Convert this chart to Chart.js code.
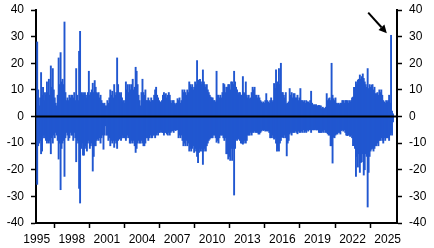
<!DOCTYPE html>
<html>
<head>
<meta charset="utf-8">
<script src="https://cdn.jsdelivr.net/npm/chart.js@4.4.1/dist/chart.umd.min.js"></script>
<style>
html,body{margin:0;padding:0;background:#fff;}
canvas{display:block;}
</style>
</head>
<body>
<canvas id="c" width="434" height="248"></canvas>
<script>
// Monthly extremes, Jan 1995 onwards (one value per month)
const startYear = 1995;
const hi = [
 28,10,4,7,16.5,8,11,6,9,8,13,9,
 14,8,19,11,18,10,7,5,4,8,22,12,
 24,13,14,12,35.5,9,6,7,6,8,7,8,
 8,7,9,6,18,8,6,24.5,32,9,8,9,
 8,9,8,7,9,17,8,9,10,12.5,9,13.5,
 11,9,8.6,9,7,8,6,5,4.8,5,4,4,
 6,5,7,10,8,9.5,7,12,8,9,22,12,
 9,8,9,7,5.5,6,5,13,10,12,9,12,
 10,12,14,10,11,18.5,17,12,8,6,4,9,
 14,9,8,10,6,6,7,6,5.5,7,6,6,
 8,10,11,8,7,6,5.5,5,6,8,9,8,
 8.6,7,8,9,8,6,5,6,6,5,4.5,5,
 6.7,6,7,5,6,10,9,10,9,8,10,9,
 13,12,11,12,10,11,13,12,21,13.7,13,14,
 13,12,17.5,13,12,11,12,10,9,8,7.3,7,
 7,6,6,5.5,17,8,8,7,8,7,9,12.4,
 12,9,11,11,12,12,10,13,13,12,17,13,
 11,10,8,9,9,8,8,15,9,8.6,13,8,
 7,8,6.7,7,9,11,10,11,8,8,7,8,
 7,6,5.5,5,5.5,5,6,8.6,6,5.5,5,6,
 7,5.5,6,12.4,10.5,17.5,12,13,18,12,20,9,
 9,8,7,9,4.8,5,5.5,10.5,8,9,7,8.6,
 8.6,7,7,8,6,7,10.5,6,6,5.5,6,5,
 6,5.5,5.5,5,6,9.5,5,4.2,4.5,4,4.5,4,
 4,4.2,4,4,3,3.5,3,3,3.5,8.6,6,6.7,
 7,6,20,8,6.7,6,7,5,4.8,5,4.5,5,
 5,6,6,5,6,6,6,5,6,5.5,6,7,
 7.3,11,11,13,12,13.7,14,15.6,14,15,16,14.3,
 13,12,11,18,10.5,12,11,11.8,12,10,11,8.6,
 8.6,9,8,10,9,10,8,6,5.5,5,6,5.5,
 6,8,5,30.5,2,1
];
const lo = [
 -25.5,-11,-10,-9,-14,-13,-7,-8,-7,-9,-10,-9,
 -10,-9,-14,-8,-10,-7,-8,-6,-7,-9,-16,-10,
 -27.5,-12,-10,-9,-22.5,-8,-6,-7,-9,-8,-6,-7,
 -7,-9,-6,-8,-17,-9,-10,-27,-32.5,-12,-10,-14.5,
 -14.5,-12,-11,-13,-10,-9,-12,-11,-10,-20.5,-15,-11,
 -11,-9,-8.5,-9,-8,-10,-8,-7,-12.3,-7,-3.5,-7,
 -7,-9,-8,-11,-9,-10,-9,-11.6,-9,-10,-12,-9,
 -8.5,-8,-9,-8,-7,-8,-8,-9,-8,-7,-8,-10,
 -10,-9,-10,-9,-11,-13.5,-12,-10,-9,-10,-10,-9,
 -10,-11,-11,-10,-8,-8,-9,-8,-7,-8,-8,-7,
 -7,-8,-7,-6,-7,-6,-6,-5,-6,-6,-7,-6,
 -6,-6.6,-7,-6,-7,-6,-5.5,-5.3,-6,-5,-5.3,-5,
 -5,-8,-7,-8,-7,-9,-11,-10,-11,-9,-11,-10,
 -13,-12,-13,-12,-11,-13.5,-12,-13,-15,-17.3,-13.5,-12,
 -13,-12,-18,-13,-12,-13,-11,-10,-9,-8.5,-8,-8,
 -8,-7,-7,-8,-9.7,-9,-10,-8,-7,-7,-7,-8,
 -9,-8,-14,-14,-16,-15,-16.5,-12,-16.5,-12,-29.5,-12,
 -8.5,-9,-8,-8.5,-9,-10,-10,-10.4,-10,-9,-10,-9,
 -7,-7,-7,-6,-7,-6,-6,-5.5,-6,-6,-6,-6.6,
 -6.6,-6,-5.5,-5,-5.3,-5,-5.5,-5.3,-5.5,-5.3,-6,-8,
 -8,-7,-8,-8.5,-8,-10,-13,-12,-13,-10,-9,-7.8,
 -7.8,-8,-7,-8,-14.8,-10,-9,-6.6,-6,-7,-6,-6,
 -6,-5.5,-6,-6.5,-5.5,-6,-6,-5.5,-6,-5,-6,-5.5,
 -6,-5,-5.5,-5,-5,-6,-5,-5,-5,-4.5,-5,-5,
 -5,-6,-6,-6,-6,-5.5,-6,-5,-6,-6,-6.5,-7,
 -7,-11,-11,-17.5,-7.8,-8,-7,-6.6,-6.6,-6,-6,-6.6,
 -5.3,-5,-5.5,-5,-6,-7,-7.2,-7,-7,-7.5,-7,-8,
 -11,-11,-12,-22.5,-15,-19,-14,-21,-17.3,-17,-14,-22,
 -20,-14,-15,-34,-21,-15,-13,-12.3,-12,-13,-12,-11,
 -11,-10,-11,-9,-9,-8,-9,-10,-8,-9,-8,-8,
 -8,-9,-7,-6,-7,-2
];
const xTickYears = [1995,1998,2001,2004,2007,2010,2013,2016,2019,2022,2025];
const yTickValues = [-40,-30,-20,-10,0,10,20,30,40];

const BLUE = '#2157d0';
const FONT = {family: "'Liberation Sans', Arial, sans-serif", size: 12};

const barData = hi.map((h, i) => ({x: startYear + (i + 0.5) / 12, y: [lo[i], h]}));

const overlay = {
  id: 'overlay',
  afterDatasetsDraw(chart) {
    const {ctx, chartArea, scales} = chart;
    const y0 = scales.y.getPixelForValue(0);
    ctx.save();
    ctx.strokeStyle = '#000';
    ctx.lineWidth = 2;
    ctx.beginPath();
    ctx.moveTo(chartArea.left, y0);
    ctx.lineTo(chartArea.right, y0);
    ctx.stroke();
    // arrow pointing to latest spike
    const x1 = scales.x.getPixelForValue(2023.34), y1 = scales.y.getPixelForValue(39);
    const x2 = scales.x.getPixelForValue(2024.93), y2 = scales.y.getPixelForValue(31.3);
    const ang = Math.atan2(y2 - y1, x2 - x1);
    const hl = 8, hw = 4;
    const bx = x2 - hl * Math.cos(ang), by = y2 - hl * Math.sin(ang);
    ctx.lineWidth = 2;
    ctx.beginPath();
    ctx.moveTo(x1, y1);
    ctx.lineTo(bx, by);
    ctx.stroke();
    ctx.fillStyle = '#000';
    ctx.beginPath();
    ctx.moveTo(x2, y2);
    ctx.lineTo(bx + hw * Math.sin(ang), by - hw * Math.cos(ang));
    ctx.lineTo(bx - hw * Math.sin(ang), by + hw * Math.cos(ang));
    ctx.closePath();
    ctx.fill();
    ctx.restore();
  }
};

const axisGrid = {display: true, drawOnChartArea: false, drawTicks: true, tickLength: 5, tickWidth: 1.5, tickColor: '#000'};
const axisBorder = {display: true, color: '#000', width: 2};
const fitV = (w) => (s) => { s.width = w; s.paddingTop = 0; s.paddingBottom = 0; };

new Chart(document.getElementById('c'), {
  type: 'bar',
  data: {
    datasets: [{
      data: barData,
      backgroundColor: BLUE,
      borderWidth: 0,
      barThickness: 1.25,
      xAxisID: 'x',
      yAxisID: 'y'
    }]
  },
  options: {
    responsive: false,
    animation: false,
    events: [],
    layout: {padding: {top: 10, left: 0, right: 0, bottom: 0}},
    plugins: {legend: {display: false}, tooltip: {enabled: false}},
    scales: {
      x: {
        type: 'linear',
        min: 1994.94,
        max: 2025.8,
        offset: false,
        grid: axisGrid,
        border: axisBorder,
        afterBuildTicks: (axis) => { axis.ticks = xTickYears.map(v => ({value: v})); },
        afterFit: (s) => { s.height = 25; s.paddingLeft = 0; s.paddingRight = 0; },
        ticks: {color: '#000', font: FONT, padding: 4, maxRotation: 0, autoSkip: false, callback: (v) => String(v)}
      },
      y: {
        position: 'left',
        min: -40, max: 40,
        grid: axisGrid,
        border: axisBorder,
        afterBuildTicks: (axis) => { axis.ticks = yTickValues.map(v => ({value: v})); },
        afterFit: fitV(36),
        ticks: {color: '#000', font: FONT, padding: 7, callback: (v) => String(v)}
      },
      y2: {
        position: 'right',
        min: -40, max: 40,
        grid: axisGrid,
        border: axisBorder,
        afterBuildTicks: (axis) => { axis.ticks = yTickValues.map(v => ({value: v})); },
        afterFit: fitV(37),
        ticks: {color: '#000', font: FONT, padding: 7, callback: (v) => String(v)}
      }
    }
  },
  plugins: [overlay]
});
</script>
</body>
</html>
